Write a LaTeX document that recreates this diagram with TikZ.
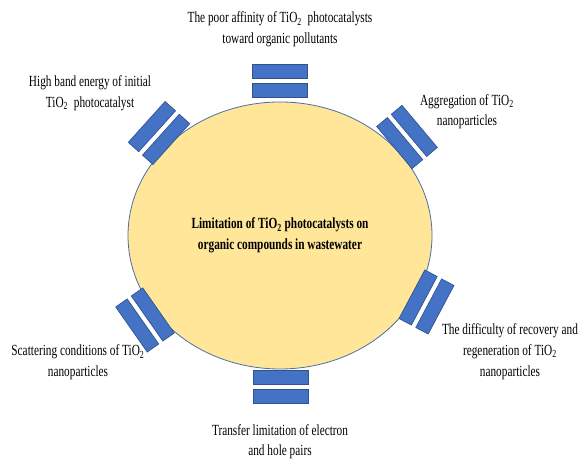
\documentclass[tikz,border=0pt]{standalone}
\usepackage{fontspec}
\setmainfont[FakeStretch=0.73]{Liberation Serif}
\usetikzlibrary{shapes.geometric}
\definecolor{barblue}{HTML}{4472C4}
\definecolor{baredge}{HTML}{2F528F}
\definecolor{discfill}{HTML}{FFE699}
\definecolor{discedge}{HTML}{4A6FA8}

\begin{document}
\begin{tikzpicture}[x=0.75pt,y=0.75pt,
    nodes={outer sep=0pt,inner sep=0pt},
    bar/.style={draw=baredge,line width=0.5pt,fill=barblue,minimum width=41.25pt,minimum height=10.5pt},
    cause/.style={align=center,font=\fontsize{11.6}{15.4}\selectfont}]
      \useasboundingbox (0,0) rectangle (580,459);
      \node (limit) at (280,223.5) [ellipse,draw=discedge,line width=0.6pt,fill=discfill,minimum width=228pt,minimum height=200.25pt,cause,font=\bfseries\fontsize{11.6}{15.4}\selectfont] {Limitation of TiO\textsubscript{2} photocatalysts on\\organic compounds in wastewater};
      % bar pairs round the ellipse
      \node (topout) at (280,387.5)   [bar] {};
      \node (topin)  at (280,368.5)   [bar] {};
      \node (ulout)  at (151.9,332.4) [bar,rotate=48] {};
      \node (ulin)   at (166.1,319.6) [bar,rotate=48] {};
      \node (urout)  at (414.3,328.1) [bar,rotate=-50] {};
      \node (urin)   at (399.7,315.9) [bar,rotate=-50] {};
      \node (lrout)  at (434.9,152.5) [bar,rotate=62] {};
      \node (lrin)   at (418.1,161.5) [bar,rotate=62] {};
      \node (llout)  at (137.2,133.5) [bar,rotate=-55] {};
      \node (llin)   at (152.8,144.5) [bar,rotate=-55] {};
      \node (botin)  at (281,81.5)    [bar] {};
      \node (botout) at (281,62.5)    [bar] {};
      % causes
      \node (affinity)   at (280,429.5) [cause] {The poor affinity of TiO\textsubscript{2}\ \ photocatalysts\\toward organic pollutants};
      \node (bandenergy) at (90,365.5)  [cause] {High band energy of initial\\TiO\textsubscript{2}\ \ photocatalyst};
      \node (aggregation) at (467,347.3) [cause] {Aggregation of TiO\textsubscript{2}\\nanoparticles};
      \node (recovery)   at (510,107.3) [cause] {The difficulty of recovery and\\regeneration of TiO\textsubscript{2}\\nanoparticles};
      \node (scattering) at (78,96.8)   [cause] {Scattering conditions of TiO\textsubscript{2}\\nanoparticles};
      \node (transfer)   at (280,17.3)  [cause] {Transfer limitation of electron\\and hole pairs};
    \end{tikzpicture}
\end{document}
